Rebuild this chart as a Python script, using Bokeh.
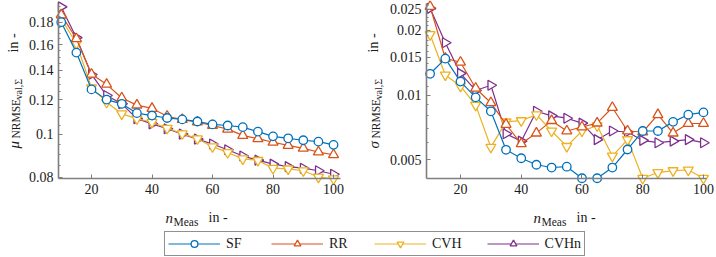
import numpy as np
from bokeh.plotting import figure
from bokeh.models import (FixedTicker, NumeralTickFormatter, Label, Legend,
                          LegendItem, Range1d)
from bokeh.layouts import column, row
from bokeh.embed import file_html
from bokeh.resources import INLINE

# ---------------- data ----------------
n_meas = [10, 15, 20, 25, 30, 35, 40, 45, 50, 55, 60, 65, 70, 75, 80, 85, 90, 95, 100]

mu_SF = [0.180, 0.1535, 0.1266, 0.1200, 0.1174, 0.1118, 0.1104, 0.1090, 0.1082, 0.1070,
         0.1054, 0.1048, 0.1039, 0.1015, 0.0990, 0.0980, 0.0970, 0.0963, 0.0947]
mu_RR = [0.187, 0.165, 0.137, 0.130, 0.1210, 0.1166, 0.1146, 0.1100, 0.1081, 0.1067,
         0.1048, 0.1028, 0.0995, 0.0978, 0.0960, 0.0944, 0.0930, 0.0912, 0.0899]
mu_CVH = [0.183, 0.161, 0.1277, 0.1184, 0.1114, 0.1086, 0.1066, 0.1033, 0.1004, 0.0978,
          0.0938, 0.0910, 0.0880, 0.0873, 0.0838, 0.0835, 0.0827, 0.0800, 0.0793]
mu_CVHn = [0.195, 0.166, 0.1369, 0.1226, 0.1174, 0.1086, 0.1057, 0.1030, 0.1002, 0.0976,
           0.0951, 0.0923, 0.0893, 0.0874, 0.0856, 0.0845, 0.0838, 0.0827, 0.0812]

sig_SF = [0.01255, 0.01476, 0.01155, 0.00975, 0.0084, 0.00556, 0.00508, 0.00474, 0.0046, 0.00464,
          0.0041, 0.0041, 0.0046, 0.00558, 0.0068, 0.0068, 0.0075, 0.0081, 0.0083]
sig_RR = [0.0258, 0.0148, 0.0142, 0.01075, 0.0092, 0.0073, 0.00593, 0.00665, 0.0076, 0.0068,
          0.0071, 0.0074, 0.00875, 0.0068, 0.00673, 0.0081, 0.00665, 0.00737, 0.00737]
sig_CVH = [0.0191, 0.0124, 0.0110, 0.00897, 0.00572, 0.0075, 0.0076, 0.0081, 0.0068, 0.00577,
           0.0068, 0.0072, 0.0052, 0.0062, 0.0041, 0.00436, 0.00445, 0.00448, 0.0041]
sig_CVHn = [0.0253, 0.0175, 0.0126, 0.0105, 0.0111, 0.0066, 0.0061, 0.0084, 0.0080, 0.0078,
            0.0074, 0.0062, 0.0068, 0.00673, 0.00615, 0.0060, 0.0061, 0.0062, 0.0060]

series_names = ["SF", "RR", "CVH", "CVHn"]
series_colors = ["#0072BD", "#D95319", "#EDB120", "#7E2F8E"]
series_markers = ["circle", "triangle", "inverted_triangle", "triangle"]
series_angles = [0.0, 0.0, 0.0, -np.pi / 2]
series_sizes = [8.5, 10, 10, 10]

mu_ticks = [0.08, 0.1, 0.12, 0.14, 0.16, 0.18]
mu_minor = [0.085, 0.09, 0.095, 0.105, 0.11, 0.115, 0.125, 0.13, 0.135,
            0.145, 0.15, 0.155, 0.165, 0.17, 0.175, 0.185, 0.19, 0.195]
sig_ticks = [0.005, 0.01, 0.015, 0.02, 0.025]
sig_minor = [0.006, 0.007, 0.008, 0.009, 0.011, 0.012, 0.013, 0.014,
             0.016, 0.017, 0.018, 0.019, 0.021, 0.022, 0.023, 0.024, 0.026]
x_ticks = [20, 40, 60, 80, 100]

# axis extents (data units) shown by the axes lines
mu_x_bounds = (9.09, 102.3)
mu_y_bounds = (0.0794, 0.1985)
sig_x_bounds = (8.81, 101.0)
sig_y_bounds = (0.00409, 0.02664)

FONT = "Liberation Serif"
TXT = "#1a1a1a"
AXC = "#7f7f7f"
H_TOP = 228


def lin_range(f0, f1, d0, d1, canvas):
    s = (d1 - d0) / (f1 - f0)
    return Range1d(d0 - f0 * s, d1 + (canvas - f1) * s)


def log_range(top_px, bot_px, v_top, v_bot, canvas):
    lt, lb = np.log10(v_top), np.log10(v_bot)
    s = (lt - lb) / (bot_px - top_px)
    return Range1d(10 ** (lb - (canvas - bot_px) * s), 10 ** (lt + top_px * s))


def make_panel(width, frame_x0, frame_x1, xb, yb, yticks, yminor, ydata):
    p = figure(width=width, height=H_TOP, y_axis_type="log", output_backend="svg",
               toolbar_location=None,
               x_range=lin_range(frame_x0, frame_x1, xb[0], xb[1], width),
               y_range=log_range(3, 178, yb[1], yb[0], H_TOP),
               min_border=0, min_border_left=0, min_border_right=0,
               min_border_top=0, min_border_bottom=0)
    p.xaxis.fixed_location = yb[0]
    p.yaxis.fixed_location = xb[0]
    p.xaxis.bounds = xb
    p.yaxis.bounds = yb
    p.xaxis.ticker = FixedTicker(ticks=x_ticks)
    p.yaxis.ticker = FixedTicker(ticks=yticks, minor_ticks=yminor)
    p.yaxis.formatter = NumeralTickFormatter(format="0.[000]")
    for ax in (p.xaxis[0], p.yaxis[0]):
        ax.axis_line_color = AXC
        ax.axis_line_width = 1.6
        ax.major_tick_line_color = AXC
        ax.minor_tick_line_color = AXC
        ax.major_tick_in = 4
        ax.major_tick_out = 0
        ax.minor_tick_in = 2
        ax.minor_tick_out = 0
        ax.major_label_text_font = FONT
        ax.major_label_text_font_size = "14px"
        ax.major_label_text_color = TXT
    p.xaxis.minor_tick_line_color = None
    p.xaxis.major_label_standoff = 5
    p.yaxis.major_label_standoff = 5
    p.xgrid.visible = False
    p.ygrid.visible = False
    p.outline_line_color = None
    for i in [3, 2, 1, 0]:
        ys = ydata[i]
        p.line(n_meas, ys, line_color=series_colors[i], line_width=1.2)
        p.scatter(n_meas, ys, marker=series_markers[i], size=series_sizes[i],
                  angle=series_angles[i], line_color=series_colors[i],
                  fill_color="white", line_width=1.3)
    return p


def add_label(p, text, x, y, size, italic=False, angle=0.0):
    p.add_layout(Label(x=x, y=y, x_units="screen", y_units="screen", text=text,
                       angle=angle, text_font=FONT, text_font_size=size,
                       text_font_style="italic" if italic else "normal",
                       text_color=TXT, text_baseline="alphabetic", text_align="left"))


p1 = make_panel(356, 58, 340, mu_x_bounds, mu_y_bounds, mu_ticks, mu_minor,
                [mu_SF, mu_RR, mu_CVH, mu_CVHn])
p2 = make_panel(360, 70, 350, sig_x_bounds, sig_y_bounds, sig_ticks, sig_minor,
                [sig_SF, sig_RR, sig_CVH, sig_CVHn])

# y-axis titles (rotated, with subscripts); positions in canvas px
for p, sym, xb in ((p1, "\u03bc", 13), (p2, "\u03c3", 17)):
    R = np.pi / 2
    add_label(p, sym, xb, H_TOP - 148, "15px", italic=True, angle=R)
    add_label(p, "NRMSE", xb + 2.5, H_TOP - 138, "11.5px", angle=R)
    add_label(p, "val,\u03a3", xb + 5, H_TOP - 99, "10px", angle=R)
    add_label(p, "in -", xb, H_TOP - 52, "14px", angle=R)

# x-axis titles
for p, xo in ((p1, 165), (p2, 177)):
    add_label(p, "n", xo, H_TOP - 217, "15px", italic=True)
    add_label(p, "Meas", xo + 8, H_TOP - 221, "11.5px")
    add_label(p, "in -", xo + 43, H_TOP - 217, "14px")

# ---------------- legend panel ----------------
p3 = figure(width=716, height=29, output_backend="svg", toolbar_location=None,
            x_axis_location=None, y_axis_location=None,
            x_range=Range1d(0, 1), y_range=Range1d(0, 1),
            min_border=0, min_border_left=0, min_border_right=0,
            min_border_top=0, min_border_bottom=0)
p3.outline_line_color = None
p3.xgrid.visible = False
p3.ygrid.visible = False
items = []
for i in range(4):
    l = p3.line(n_meas, mu_SF, line_color=series_colors[i], line_width=1.2, visible=False)
    s = p3.scatter(n_meas, mu_SF, marker=series_markers[i], size=series_sizes[i] - 1,
                   angle=series_angles[i], line_color=series_colors[i],
                   fill_color="white", line_width=1.3, visible=False)
    items.append(LegendItem(label=series_names[i], renderers=[l, s]))
legend = Legend(items=items, orientation="horizontal", location=(164, 1),
                border_line_color="#222222", border_line_width=1.2,
                padding=3, spacing=25, glyph_width=52, glyph_height=17,
                label_height=17, label_standoff=6, margin=0,
                label_text_font=FONT, label_text_font_size="14px",
                label_text_color=TXT, background_fill_color="white")
p3.add_layout(legend, "center")

layout = column(row(p1, p2), p3)
open("out.html", "w").write(file_html(layout, INLINE))
